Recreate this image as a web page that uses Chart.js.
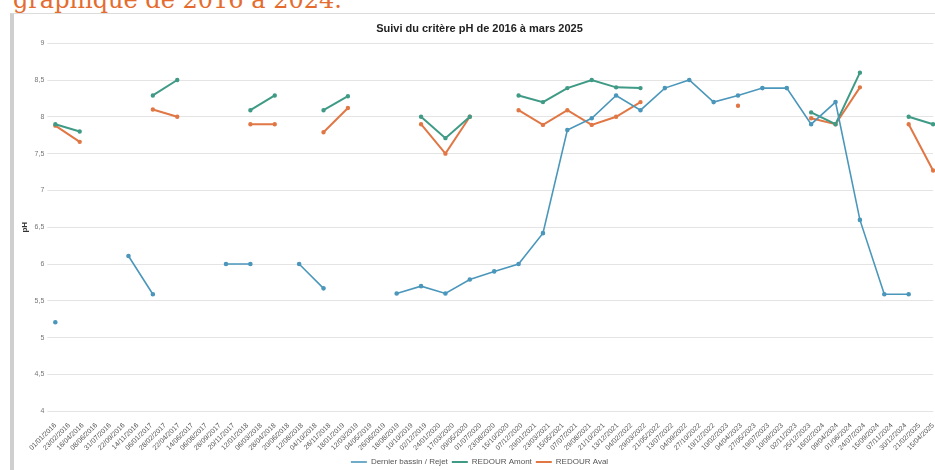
<!DOCTYPE html>
<html lang="fr">
<head>
<meta charset="utf-8">
<script src="https://cdn.jsdelivr.net/npm/chart.js@4.4.1/dist/chart.umd.min.js"></script>
<style>
  html, body { margin: 0; padding: 0; background: #fff; }
  body { width: 935px; height: 470px; position: relative; overflow: hidden; }
  #caption { position: absolute; left: 13px; top: -14px; font: 24px "DejaVu Serif", serif; color: #e46c2e; white-space: nowrap; }
  #frame { position: absolute; left: 10px; top: 13px; width: 925px; height: 457px; border-left: 4px solid #cfcfcf; border-top: 1px solid #dcdcdc; box-sizing: border-box; }
  #wrap { position: absolute; left: 14px; top: 14px; width: 927px; height: 462px; }
</style>
</head>
<body>
<div id="caption">graphique de 2016 à 2024.</div>
<div id="frame"></div>
<div id="wrap"><canvas id="phChart"></canvas></div>
<script>
// one sample per quarter, T1 2016 -> T1 2025
const quarters = [
  'T1 2016', 'T2 2016', 'T3 2016', 'T4 2016',
  'T1 2017', 'T2 2017', 'T3 2017', 'T4 2017',
  'T1 2018', 'T2 2018', 'T3 2018', 'T4 2018',
  'T1 2019', 'T2 2019', 'T3 2019', 'T4 2019',
  'T1 2020', 'T2 2020', 'T3 2020', 'T4 2020',
  'T1 2021', 'T2 2021', 'T3 2021', 'T4 2021',
  'T1 2022', 'T2 2022', 'T3 2022', 'T4 2022',
  'T1 2023', 'T2 2023', 'T3 2023', 'T4 2023',
  'T1 2024', 'T2 2024', 'T3 2024', 'T4 2024',
  'T1 2025'
];

// date labels shown under the axis
const dateLabels = [
  '01/01/2016', '23/02/2016', '16/04/2016', '08/06/2016', '31/07/2016', '22/09/2016', '14/11/2016',
  '06/01/2017', '28/02/2017', '22/04/2017', '14/06/2017', '06/08/2017', '28/09/2017', '20/11/2017',
  '12/01/2018', '06/03/2018', '28/04/2018', '20/06/2018', '12/08/2018', '04/10/2018', '26/11/2018',
  '18/01/2019', '12/03/2019', '04/05/2019', '26/06/2019', '18/08/2019', '10/10/2019', '02/12/2019',
  '24/01/2020', '17/03/2020', '09/05/2020', '01/07/2020', '23/08/2020', '15/10/2020', '07/12/2020',
  '29/01/2021', '23/03/2021', '15/05/2021', '07/07/2021', '29/08/2021', '21/10/2021', '13/12/2021',
  '04/02/2022', '29/03/2022', '21/05/2022', '13/07/2022', '04/09/2022', '27/10/2022', '19/12/2022',
  '10/02/2023', '04/04/2023', '27/05/2023', '19/07/2023', '10/09/2023', '02/11/2023', '25/12/2023',
  '16/02/2024', '09/04/2024', '01/06/2024', '24/07/2024', '15/09/2024', '07/11/2024', '30/12/2024',
  '21/02/2025', '15/04/2025'
];

const dernierBassin = [
  5.21, null, null, 6.11, 5.59, null, null, 6.0, 6.0, null,
  6.0, 5.67, null, null, 5.6, 5.7, 5.6, 5.79, 5.9, 6.0,
  6.42, 7.82, 7.98, 8.29, 8.09, 8.39, 8.5, 8.2, 8.29, 8.39,
  8.39, 7.9, 8.2, 6.6, 5.59, 5.59, null
];

const redourAmont = [
  7.9, 7.8, null, null, 8.29, 8.5, null, null, 8.09, 8.29,
  null, 8.09, 8.28, null, null, 8.0, 7.71, 8.0, null, 8.29,
  8.2, 8.39, 8.5, 8.4, 8.39, null, null, null, null, null,
  null, 8.06, 7.9, 8.6, null, 8.0, 7.9
];

const redourAval = [
  7.88, 7.66, null, null, 8.1, 8.0, null, null, 7.9, 7.9,
  null, 7.79, 8.12, null, null, 7.9, 7.5, 8.0, null, 8.09,
  7.89, 8.09, 7.89, 8.0, 8.2, null, null, null, 8.15, null,
  null, 7.98, 7.9, 8.4, null, 7.9, 7.27
];

const ctx = document.getElementById('phChart').getContext('2d');
const phChart = new Chart(ctx, {
    type: 'line',
    data: {
        labels: quarters,
        datasets: [{
            label: 'Dernier bassin / Rejet',
            data: dernierBassin,
            borderColor: '#4b97bb',
            backgroundColor: '#4b97bb',
            borderWidth: 1.6,
            pointRadius: 1.5,
            pointHoverRadius: 1.5
        }, {
            label: 'REDOUR Amont',
            data: redourAmont,
            borderColor: '#3f9a86',
            backgroundColor: '#3f9a86',
            borderWidth: 2,
            pointRadius: 1.2,
            pointHoverRadius: 1.2
        }, {
            label: 'REDOUR Aval',
            data: redourAval,
            borderColor: '#e07745',
            backgroundColor: '#e07745',
            borderWidth: 2,
            pointRadius: 1.2,
            pointHoverRadius: 1.2
        }]
    },
    options: {
        responsive: true,
        maintainAspectRatio: false,
        animation: false,
        layout: {
            padding: { left: 6, right: 2, top: 0, bottom: 0 }
        },
        plugins: {
            title: {
                display: true,
                text: 'Suivi du critère pH de 2016 à mars 2025',
                color: '#222',
                font: { family: 'Liberation Sans', size: 11, weight: 'bold' },
                padding: { top: 8, bottom: 8 }
            },
            legend: {
                position: 'bottom',
                labels: {
                    color: '#555',
                    font: { family: 'Liberation Sans', size: 8 },
                    usePointStyle: true,
                    pointStyle: 'line',
                    pointStyleWidth: 16,
                    boxHeight: 6,
                    padding: 4
                }
            },
            tooltip: { enabled: false }
        },
        scales: {
            x: {
                display: false,
                offset: false
            },
            xt: {
                type: 'category',
                position: 'bottom',
                labels: dateLabels,
                offset: false,
                grid: { display: false },
                border: { display: false },
                ticks: {
                    autoSkip: false,
                    maxRotation: 45,
                    minRotation: 45,
                    padding: 2,
                    color: '#555',
                    font: { family: 'Liberation Sans', size: 7 }
                }
            },
            y: {
                min: 4,
                max: 9,
                grid: { color: '#e4e4e4' },
                border: { display: false },
                ticks: {
                    stepSize: 0.5,
                    padding: 3,
                    color: '#777',
                    font: { family: 'Liberation Sans', size: 7 },
                    callback: v => String(v).replace('.', ',')
                },
                title: {
                    display: true,
                    text: 'pH',
                    color: '#333',
                    font: { family: 'Liberation Sans', size: 8, weight: 'bold' },
                    padding: { top: 0, bottom: 2 }
                }
            }
        }
    }
});
</script>
</body>
</html>
